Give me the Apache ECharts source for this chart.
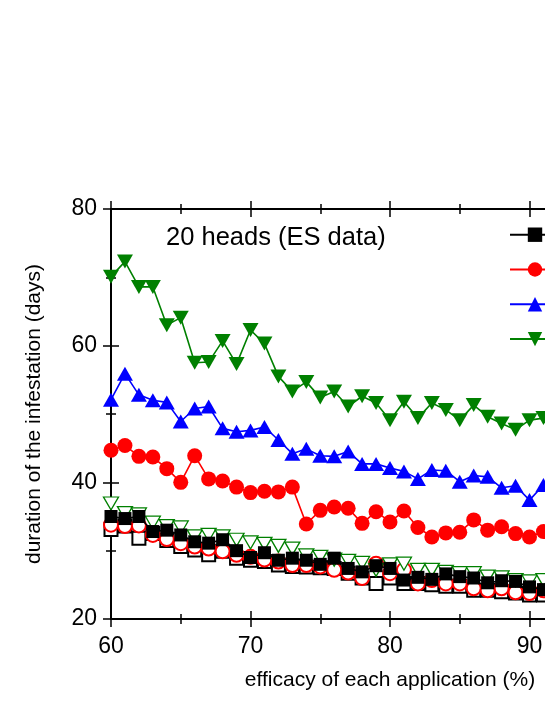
<!DOCTYPE html>
<html>
<head>
<meta charset="utf-8">
<script src="https://cdn.jsdelivr.net/npm/echarts@6/dist/echarts.min.js"></script>
<style>
  html, body { margin: 0; padding: 0; background: #fff; }
  #chart { width: 545px; height: 705px; }
</style>
</head>
<body>
<div id="chart"></div>
<script>
// efficacy (%) for each point
var efficacy = [60, 61, 62, 63, 64, 65, 66, 67, 68, 69, 70, 71, 72, 73, 74, 75,
  76, 77, 78, 79, 80, 81, 82, 83, 84, 85, 86, 87, 88, 89, 90, 91];

// filled symbols (lines)
var blackFilled = [35.0, 34.7, 35.0, 32.8, 33.0, 32.3, 31.3, 31.1, 31.6, 30.0, 29.0, 29.7, 28.6, 28.9, 28.6, 28.0,
  28.9, 27.4, 26.9, 27.8, 27.4, 25.7, 26.1, 25.8, 26.6, 26.2, 26.0, 25.3, 25.6, 25.5, 24.7, 24.3];
var redFilled = [44.7, 45.4, 43.8, 43.7, 42.0, 40.0, 43.9, 40.5, 40.2, 39.3, 38.5, 38.7, 38.6, 39.3, 33.9, 35.9,
  36.4, 36.2, 34.0, 35.7, 34.2, 35.8, 33.4, 32.0, 32.6, 32.7, 34.5, 33.0, 33.5, 32.5, 32.0, 32.8];
var blueFilled = [52.1, 55.9, 52.8, 52.0, 51.7, 48.9, 50.8, 51.1, 47.9, 47.4, 47.6, 48.1, 46.2, 44.2, 44.9, 43.9,
  43.8, 44.5, 42.7, 42.7, 42.1, 41.6, 40.5, 41.8, 41.7, 40.1, 41.0, 40.8, 39.2, 39.5, 37.4, 39.6];
var greenFilled = [70.1, 72.3, 68.6, 68.6, 63.0, 64.1, 57.5, 57.6, 60.7, 57.3, 62.3, 60.3, 55.5, 53.3, 54.7, 52.4,
  53.3, 51.1, 52.6, 51.6, 49.1, 51.8, 49.4, 51.6, 50.6, 49.1, 51.3, 49.6, 48.6, 47.7, 49.1, 49.4];

// open symbols (no lines)
var blackOpen = [33.1, 33.6, 31.8, 32.5, 31.5, 30.6, 30.1, 29.4, 29.9, 28.9, 28.6, 28.4, 27.9, 27.7, 27.6, 27.5,
  27.4, 26.7, 26.0, 25.2, 26.0, 25.2, 25.2, 25.0, 24.8, 24.8, 24.2, 24.2, 24.0, 23.8, 23.5, 23.5];
var redOpen = [33.8, 33.6, 33.7, 32.3, 31.7, 31.1, 30.6, 30.3, 29.9, 29.4, 29.1, 28.7, 28.4, 27.9, 27.9, 27.7,
  27.2, 26.8, 26.0, 28.1, 26.7, 27.2, 25.2, 25.7, 25.2, 25.2, 24.5, 24.2, 24.5, 23.9, 23.8, 24.2];
var greenOpen = [36.9, 35.5, 35.3, 34.1, 33.6, 33.4, 32.1, 32.3, 32.1, 31.6, 31.2, 31.0, 30.7, 30.3, 29.3, 29.1,
  28.7, 28.5, 28.2, 27.2, 28.0, 28.1, 27.2, 27.2, 26.9, 26.7, 26.7, 26.2, 26.1, 25.7, 25.5, 25.7];

var seriesNames = ["1 application", "2 applications", "3 applications", "4 applications"];

var triDown = "path://M0,0 L2,0 L1,1.75 Z";

function pairs(values) {
  return efficacy.map(function (x, i) { return [x, values[i]]; });
}

var chartDom = echarts.init(document.getElementById("chart"));

var axisFont = { color: "#000", fontSize: 23, fontFamily: "Liberation Sans" };

// x axes: crossing ticks are made with one outside and one inside axis
function xAx(position, inside, showLabel) {
  return {
    type: "value",
    position: position,
    min: 60,
    max: 100,
    interval: 10,
    axisLine: { show: true, onZero: false, lineStyle: { color: "#000", width: 2 } },
    axisTick: { show: true, inside: inside, length: 8, lineStyle: { color: "#000", width: 1.5 } },
    minorTick: { show: true, splitNumber: 2, length: 5, lineStyle: { color: "#000", width: 1.5 } },
    axisLabel: showLabel ? Object.assign({ margin: 16 }, axisFont) : { show: false },
    splitLine: { show: false },
  };
}

function yAx(position, inside, showLabel) {
  return {
    type: "value",
    position: position,
    min: 20,
    max: 80,
    interval: 20,
    axisLine: { show: true, onZero: false, lineStyle: { color: "#000", width: 2 } },
    axisTick: { show: true, inside: inside, length: 8, lineStyle: { color: "#000", width: 1.5 } },
    minorTick: { show: true, splitNumber: 2, length: 5, lineStyle: { color: "#000", width: 1.5 } },
    axisLabel: showLabel ? Object.assign({ margin: 14 }, axisFont) : { show: false },
    splitLine: { show: false },
  };
}

var xBottom = xAx("bottom", false, true);
xBottom.name = "efficacy of each application (%)";
xBottom.nameLocation = "middle";
xBottom.nameGap = 51;
xBottom.nameTextStyle = { color: "#000", fontSize: 21, fontFamily: "Liberation Sans" };

var yLeft = yAx("left", false, true);
yLeft.name = "duration of the infestation (days)";
yLeft.nameLocation = "middle";
yLeft.nameGap = 66;
yLeft.nameTextStyle = { color: "#000", fontSize: 21, fontFamily: "Liberation Sans" };

function filledSeries(name, data, color, symbol, size) {
  return {
    name: name,
    type: "line",
    data: pairs(data),
    symbol: symbol,
    symbolSize: size,
    showAllSymbol: true,
    lineStyle: { color: color, width: 1.6 },
    itemStyle: { color: color },
    z: 5,
  };
}

function openSeries(name, data, color, symbol, size) {
  return {
    name: name,
    type: "line",
    data: pairs(data),
    symbol: symbol,
    symbolSize: size,
    showAllSymbol: true,
    lineStyle: { width: 0 },
    itemStyle: symbol === triDown
      ? { color: "#fff", borderColor: color, borderWidth: 1.3 }
      : { color: color, borderWidth: 1.3 },
    z: 3,
  };
}

chartDom.setOption({
  backgroundColor: "#fff",
  animation: false,
  title: {
    text: "20 heads (ES data)",
    left: 166,
    top: 225,
    padding: 0,
    textStyle: { color: "#000", fontSize: 25.5, fontWeight: "normal", fontFamily: "Liberation Sans" },
  },
  legend: {
    data: seriesNames,
    orient: "vertical",
    left: 509,
    top: 227.5,
    padding: 0,
    itemWidth: 50,
    itemHeight: 18,
    itemGap: 20.4,
    textStyle: { color: "#000", fontSize: 12, fontFamily: "Liberation Sans" },
  },
  grid: {
    left: 111,
    top: 209,
    width: 558,
    height: 410,
    containLabel: false,
    outerBoundsMode: "none",
  },
  xAxis: [
    xBottom,
    xAx("bottom", true, false),
    xAx("top", true, false),
    xAx("top", false, false),
  ],
  yAxis: [
    yLeft,
    yAx("left", true, false),
    yAx("right", true, false),
    yAx("right", false, false),
  ],
  series: [
    openSeries("open 1", blackOpen, "#000", "emptyRect", 13),
    openSeries("open 2", redOpen, "#ff0000", "emptyCircle", 14),
    openSeries("open 4", greenOpen, "#008000", triDown, [15, 13]),
    filledSeries(seriesNames[0], blackFilled, "#000", "rect", 13),
    filledSeries(seriesNames[1], redFilled, "#ff0000", "circle", 15),
    filledSeries(seriesNames[2], blueFilled, "#0000ff", "triangle", [16, 14]),
    filledSeries(seriesNames[3], greenFilled, "#008000", triDown, [16, 14]),
  ],
});
</script>
</body>
</html>
